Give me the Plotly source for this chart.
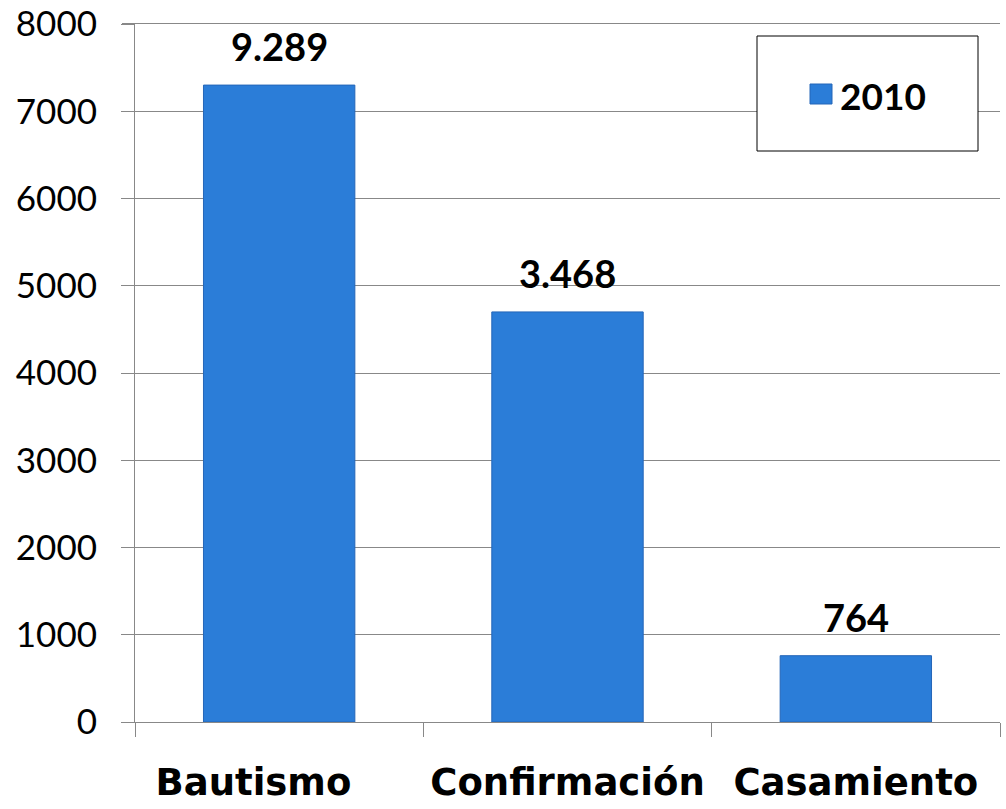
import plotly.graph_objects as go

categories = ["Bautismo", "Confirmación", "Casamiento"]
bar_values = [7300, 4700, 760]
label_texts = ["9.289", "3.468", "764"]
series_name = "2010"
y_ticks = [0, 1000, 2000, 3000, 4000, 5000, 6000, 7000, 8000]
x_tick_text = ["Bautismo\u00a0\u00a0\u00a0\u00a0", "Confirmación", "Casamiento"]

FONT = "Lato, 'Open Sans', sans-serif"
XFONT = "'DejaVu Sans', sans-serif"
BAR = "#2B7DD8"

L, R, T, B = 135, 6, 24, 87
W, H = 1006, 809
PW, PH = W - L - R, H - T - B


def px(x):
    return (x - L) / PW


def py(y):
    return (H - B - y) / PH


fig = go.Figure()
fig.add_trace(go.Bar(
    x=categories, y=bar_values, name=series_name,
    marker=dict(color=BAR, line=dict(color="#2466B8", width=1)),
    width=0.525, showlegend=False,
))

for c, v, t in zip(categories, bar_values, label_texts):
    fig.add_annotation(x=c, y=v, text="<b>" + t + "</b>", showarrow=False,
                       yanchor="bottom", yshift=14,
                       font=dict(family=FONT, size=38, color="black"))

# top gridline (range edge) with its tick, offset half a pixel for crisp rendering
fig.add_shape(type="line", xref="paper", yref="paper",
              x0=-13 / PW, x1=1, y0=1 + 0.5 / PH, y1=1 + 0.5 / PH,
              line=dict(color="#888888", width=1.2), layer="above")

# legend box
fig.add_shape(type="rect", xref="paper", yref="paper",
              x0=px(757), x1=px(978), y0=py(151), y1=py(36),
              line=dict(color="black", width=1), fillcolor="white", layer="above")
fig.add_shape(type="rect", xref="paper", yref="paper",
              x0=px(810), x1=px(832), y0=py(104), y1=py(84),
              line=dict(color="#2466B8", width=1), fillcolor=BAR, layer="above")
fig.add_annotation(xref="paper", yref="paper", x=px(838), y=py(95),
                   xanchor="left", yanchor="middle", showarrow=False,
                   text="<b>" + series_name + "</b>",
                   font=dict(family=FONT, size=37, color="black"))

fig.update_layout(
    width=W, height=H,
    margin=dict(l=L, r=R, t=T, b=B, autoexpand=False),
    plot_bgcolor="white", paper_bgcolor="white",
    showlegend=False,
    xaxis=dict(
        automargin=False,
        tickvals=categories, ticktext=x_tick_text,
        showline=True, linecolor="#888888", linewidth=1,
        ticks="outside", ticklen=14, tickcolor="#888888", tickson="boundaries",
        tickfont=dict(family=XFONT, size=37, color="black", weight="bold"),
        ticklabelstandoff=28,
    ),
    yaxis=dict(
        automargin=False,
        range=[0, 8000], tickvals=y_ticks,
        showgrid=True, gridcolor="#888888", gridwidth=1,
        showline=True, linecolor="#888888", linewidth=1,
        ticks="outside", ticklen=13, tickcolor="#888888",
        tickfont=dict(family=FONT, size=35, color="black"),
        ticklabelstandoff=17,
        zeroline=False,
    ),
    bargap=0.475,
)

fig.write_html("out.html", config={"displayModeBar": False},
               post_script="document.body.style.margin='0';document.body.style.overflow='hidden';")
